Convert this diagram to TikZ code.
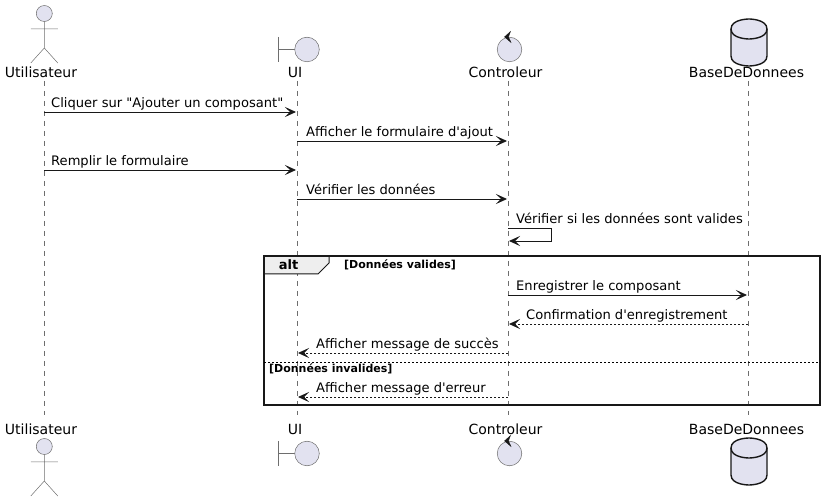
\documentclass[tikz,border=0pt]{standalone}
\usepackage{fontspec}
\setmainfont{DejaVu Sans}
\newfontfamily\rawfont{DejaVu Sans}
\usetikzlibrary{arrows.meta,shapes.geometric}
\definecolor{partfill}{HTML}{E2E2F0}
\definecolor{partline}{HTML}{181818}
\definecolor{thinline}{HTML}{6E6E6E}
\definecolor{framefill}{HTML}{EEEEEE}
\tikzset{
  x=1pt,y=-1pt,
  lifeline/.style={draw=thinline,line width=0.5pt,dash pattern=on 5pt off 5pt},
  msg/.style={draw=partline,line width=0.9pt,-{Stealth[length=11pt,width=10pt,inset=5pt]}},
  reply/.style={msg,dash pattern=on 2pt off 2pt},
  msgtext/.style={anchor=base west,inner sep=0pt,font=\rawfont\fontsize{13.08}{15}\selectfont,text=black},
  parttext/.style={anchor=base,inner sep=0pt,font=\rawfont\fontsize{14}{16}\selectfont,text=black},
  fig/.style={draw=thinline,fill=partfill,line width=0.5pt},
  figline/.style={draw=thinline,line width=0.5pt},
  ctrltip/.style={fill=partline,draw=partline,line width=0.3pt},
  dbshape/.style={draw=partline,fill=partfill,line width=1.4pt},
  framebox/.style={draw=partline,line width=1.4pt},
  framelabel/.style={anchor=base,inner sep=0pt,font=\rawfont\bfseries\fontsize{13}{15}\selectfont,text=black},
  guard/.style={anchor=base west,inner sep=0pt,font=\rawfont\bfseries\fontsize{11}{13}\selectfont,text=black},
}
\newcommand{\ActorFig}[2]{% x, head y
  \draw[fig] (#1,#2) circle[radius=8];
  \draw[figline] (#1,#2+8) -- ++(0,27) (#1-13.5,#2+15.5) -- ++(27,0)
    (#1-13.5,#2+49.5) -- (#1,#2+34.5) -- (#1+13.5,#2+49.5);
}
\newcommand{\BoundaryFig}[2]{% circle x, y
  \draw[figline] (#1-28.5,#2-12.5) -- ++(0,25) (#1-28.5,#2) -- ++(16.5,0);
  \draw[fig] (#1,#2) circle[radius=12.3];
}
\newcommand{\ControlFig}[2]{% circle x, y
  \draw[fig] (#1,#2) circle[radius=12.3];
  \fill[ctrltip] (#1-5,#2-12.6) -- (#1+1,#2-18) -- (#1-1,#2-12.6) -- (#1+1.5,#2-7) -- cycle;
}
\newcommand{\DbFig}[2]{% centre x, top y
  \draw[dbshape] (#1-18,#2+10) .. controls (#1-18,#2) and (#1,#2) .. (#1,#2)
     .. controls (#1,#2) and (#1+18,#2) .. (#1+18,#2+10)
     -- (#1+18,#2+37) .. controls (#1+18,#2+47) and (#1,#2+47) .. (#1,#2+47)
     .. controls (#1,#2+47) and (#1-18,#2+47) .. (#1-18,#2+37) -- cycle;
  \draw[dbshape,fill=none] (#1-18,#2+10) .. controls (#1-18,#2+20) and (#1,#2+20) .. (#1,#2+20)
     .. controls (#1,#2+20) and (#1+18,#2+20) .. (#1+18,#2+10);
}
\begin{document}
\begin{tikzpicture}
\useasboundingbox (0,0) rectangle (825,502);
% lifeline ends
\coordinate (ut) at (44,81);  \coordinate (ub) at (44,415);
\coordinate (it) at (297,81); \coordinate (ib) at (297,415);
\coordinate (ct) at (508,81); \coordinate (cb) at (508,415);
\coordinate (dt) at (748,81); \coordinate (db) at (748,415);
\draw[lifeline] (ut) -- (ub);
\draw[lifeline] (it) -- (ib);
\draw[lifeline] (ct) -- (cb);
\draw[lifeline] (dt) -- (db);
% heads
\ActorFig{44.3}{13.5}
\BoundaryFig{307}{49.5}
\ControlFig{509.5}{49.5}
\DbFig{749}{19}
\node[parttext] (nu) at (41,78) {Utilisateur};
\node[parttext] (ni) at (295,78) {UI};
\node[parttext] (nc) at (505.5,78) {Controleur};
\node[parttext] (nd) at (746.5,78) {BaseDeDonnees};
% feet
\node[parttext] (fu) at (41,434.5) {Utilisateur};
\node[parttext] (fi) at (295,434.5) {UI};
\node[parttext] (fc) at (505.5,434.5) {Controleur};
\node[parttext] (fd) at (746.5,434.5) {BaseDeDonnees};
\ActorFig{44.3}{446.5}
\BoundaryFig{307}{453.5}
\ControlFig{509.5}{453.5}
\DbFig{749}{438}
% frame
\coordinate (fa) at (264,256); \coordinate (fz) at (820,405);
\coordinate (sa) at (264,362); \coordinate (sz) at (820,362);
\fill[framefill] (264,256) -- (329,256) -- (329,263) -- (318,274) -- (264,274) -- cycle;
\draw[draw=partline,line width=1pt] (329,256) -- (329,263) -- (318,274) -- (264,274);
\draw[framebox] (fa) rectangle (fz);
\draw[draw=black,line width=0.8pt,dash pattern=on 2pt off 2pt] (sa) -- (sz);
\node[framelabel] (falt) at (288.5,270) {alt};
\node[guard] (g1) at (344,269) {[Données valides]};
\node[guard] (g2) at (269,373) {[Données invalides]};
% messages
\coordinate (m1a) at (44,112);  \coordinate (m1b) at (296,112);
\coordinate (m2a) at (297,141); \coordinate (m2b) at (507,141);
\coordinate (m3a) at (44,170);  \coordinate (m3b) at (296,170);
\coordinate (m4a) at (297,199); \coordinate (m4b) at (507,199);
\coordinate (m5a) at (508,228); \coordinate (m5b) at (551,228);
\coordinate (m5c) at (551,241); \coordinate (m5d) at (509,241);
\coordinate (m6a) at (508,295); \coordinate (m6b) at (747,295);
\coordinate (m7a) at (748,324); \coordinate (m7b) at (509,324);
\coordinate (m8a) at (508,353); \coordinate (m8b) at (298,353);
\coordinate (m9a) at (508,397); \coordinate (m9b) at (298,397);
\draw[msg] (m1a) -- (m1b);
\draw[msg] (m2a) -- (m2b);
\draw[msg] (m3a) -- (m3b);
\draw[msg] (m4a) -- (m4b);
\draw[msg] (m5a) -- (m5b) -- (m5c) -- (m5d);
\draw[msg] (m6a) -- (m6b);
\draw[reply] (m7a) -- (m7b);
\draw[reply] (m8a) -- (m8b);
\draw[reply] (m9a) -- (m9b);
\node[msgtext] (t1) at (51,108) {Cliquer sur "Ajouter un composant"};
\node[msgtext] (t2) at (306,137) {Afficher le formulaire d'ajout};
\node[msgtext] (t3) at (51,166) {Remplir le formulaire};
\node[msgtext] (t4) at (306,195) {Vérifier les données};
\node[msgtext] (t5) at (516,224) {Vérifier si les données sont valides};
\node[msgtext] (t6) at (516,291) {Enregistrer le composant};
\node[msgtext] (t7) at (526,320) {Confirmation d'enregistrement};
\node[msgtext] (t8) at (316,349) {Afficher message de succès};
\node[msgtext] (t9) at (316,393) {Afficher message d'erreur};
\end{tikzpicture}
\end{document}
